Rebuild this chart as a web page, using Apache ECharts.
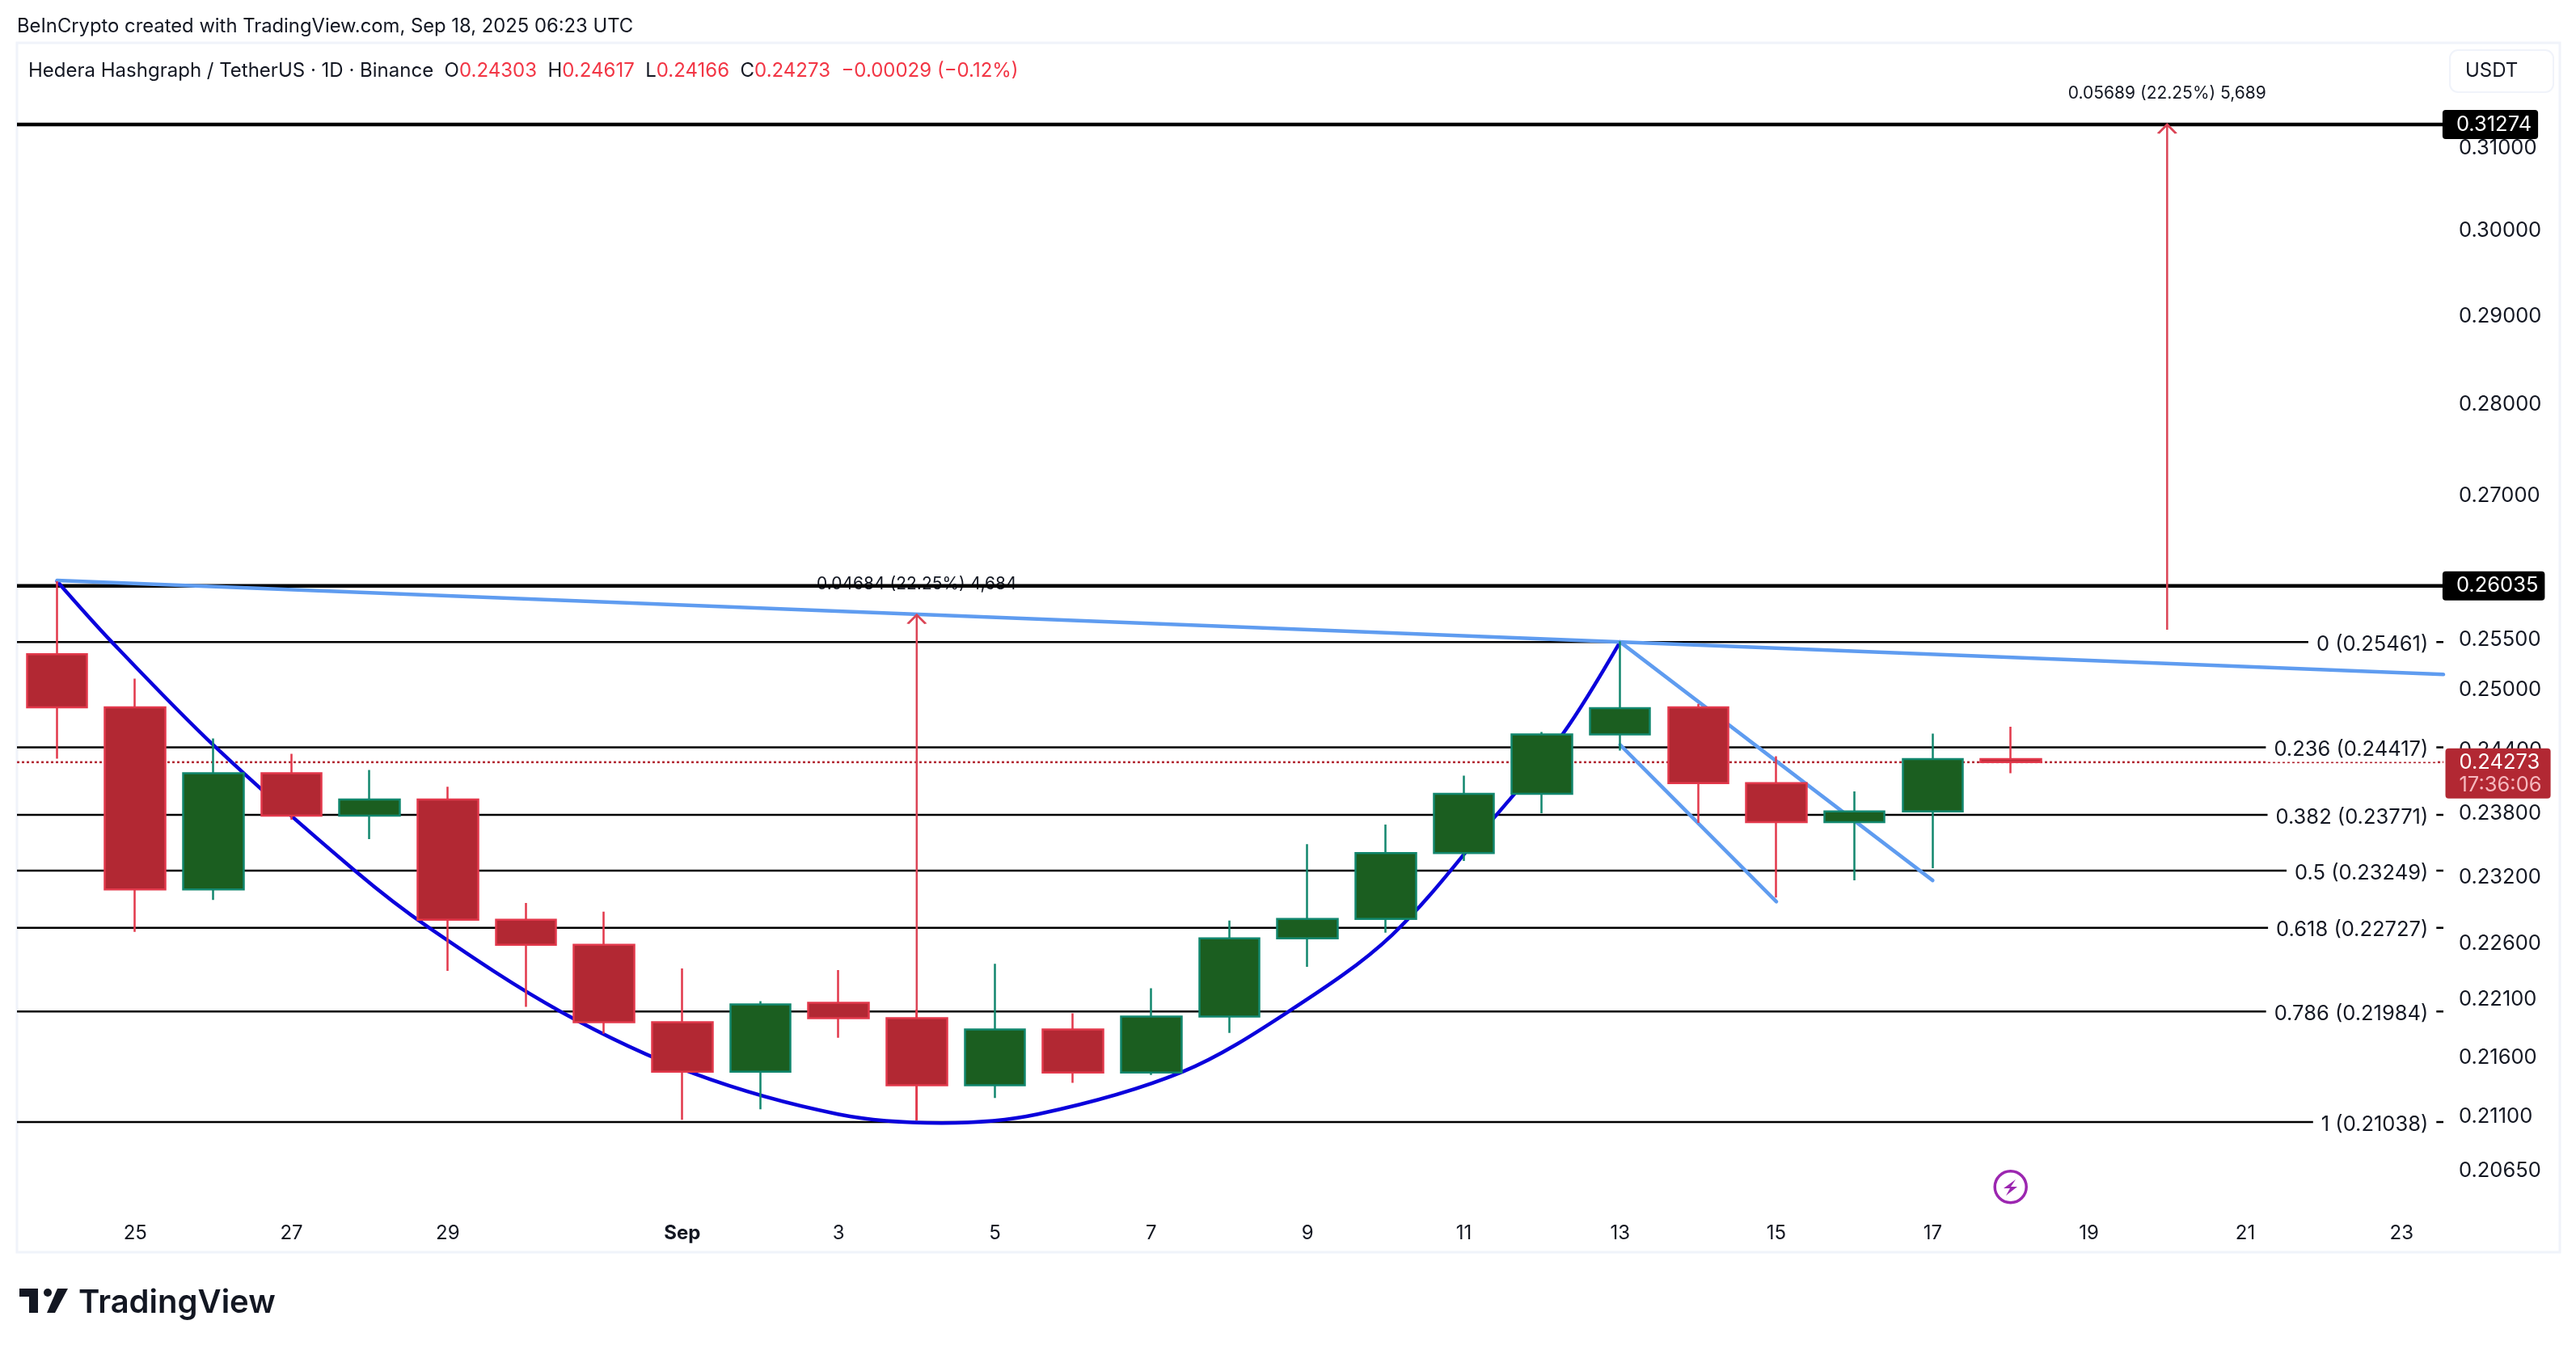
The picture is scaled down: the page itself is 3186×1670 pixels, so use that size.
<!DOCTYPE html>
<html>
<head>
<meta charset="utf-8">
<title>HBAR / USDT</title>
<script src="https://cdn.jsdelivr.net/npm/echarts@6/dist/echarts.min.js"></script>
<style>
  html, body { margin: 0; padding: 0; background: #fff; }
  #chart { width: 3186px; height: 1670px; }
</style>
</head>
<body>
<div id="chart"></div>
<script>
// daily candles, Aug 24 .. Sep 18
var opens  = [0.25338, 0.24809, 0.23077, 0.24166, 0.23763, 0.23916, 0.22800, 0.22574, 0.21890, 0.21463, 0.22059, 0.21925, 0.21349, 0.21827, 0.21456, 0.21940, 0.22632, 0.22807, 0.23413, 0.23969, 0.24542, 0.24809, 0.24072, 0.23702, 0.23802, 0.24303];
var closes = [0.24809, 0.23077, 0.24166, 0.23763, 0.23916, 0.22800, 0.22574, 0.21890, 0.21463, 0.22045, 0.21925, 0.21349, 0.21827, 0.21456, 0.21940, 0.22632, 0.22807, 0.23413, 0.23969, 0.24542, 0.24801, 0.24072, 0.23702, 0.23802, 0.24303, 0.24273];
var lows   = [0.24307, 0.22691, 0.22980, 0.23725, 0.23542, 0.22342, 0.22024, 0.21791, 0.21058, 0.21146, 0.21756, 0.21052, 0.21241, 0.21369, 0.21436, 0.21798, 0.22377, 0.22683, 0.23339, 0.23786, 0.24386, 0.23695, 0.23003, 0.23159, 0.23271, 0.24166];
var highs  = [0.26083, 0.25093, 0.24503, 0.24354, 0.24198, 0.24038, 0.22953, 0.22873, 0.22363, 0.22073, 0.22349, 0.22000, 0.22405, 0.21968, 0.22187, 0.22793, 0.23495, 0.23679, 0.24143, 0.24566, 0.25469, 0.24842, 0.24331, 0.23992, 0.24550, 0.24617];

// x axis: index 0 is Aug 24
var dayTicks  = [1, 3, 5, 8, 10, 12, 14, 16, 18, 20, 22, 24, 26, 28, 30];
var dayLabels = ['25', '27', '29', 'Sep', '3', '5', '7', '9', '11', '13', '15', '17', '19', '21', '23'];

var priceTicks = [0.31, 0.30, 0.29, 0.28, 0.27, 0.26, 0.255, 0.25, 0.244, 0.238, 0.232, 0.226, 0.221, 0.216, 0.211, 0.2065];

var fibRatios = ['0', '0.236', '0.382', '0.5', '0.618', '0.786', '1'];
var fibPrices = [0.25461, 0.24417, 0.23771, 0.23249, 0.22727, 0.21984, 0.21038];
var keyLevels = [0.31274, 0.26035];
var lastPrice = 0.24273;
var countdown = '17:36:06';

// cup curve, as [day index, price]
var cupCurve = [[0, 0.26083], [0.70, 0.25461], [2.03, 0.24417], [3.81, 0.23249], [4.76, 0.22727], [6.44, 0.21984], [8.14, 0.21450], [9.99, 0.21105], [11.32, 0.21031], [12.55, 0.21105], [14.40, 0.21463], [15.76, 0.21984], [17.08, 0.22661], [18.42, 0.23771], [19.27, 0.24550], [20, 0.25461]];

var trendLine   = [[0, 0.26091], [30.535, 0.25134]];
var channelHigh = [[20, 0.25461], [24, 0.23159]];
var channelLow  = [[20, 0.24441], [22, 0.22965]];

var arrowA = [[11, 0.21052], [11, 0.25736]];
var arrowB = [[27, 0.25585], [27, 0.31274]];
var arrowTextA = '0.04684 (22.25%) 4,684';
var arrowTextB = '0.05689 (22.25%) 5,689';

var xMin = -0.513, xMax = 30.535;
var fibLabelX = 30.45;

var FONT = 'Inter';
var TICK_SIZE = 25.5;
var RED = '#B22833', RED_EDGE = '#E2384B', GREEN = '#1B5E20', GREEN_EDGE = '#12876E';
var ARROW = '#DB4455', LIGHT_BLUE = '#5F9CF0', CUP_BLUE = '#0A00DC';
var HIDDEN_POINT = { color: 'transparent', opacity: 1 };

var candles = opens.map(function (o, i) { return [i, o, closes[i], lows[i], highs[i]]; });

function level(value, width) {
    return {
        type: 'line', z: 2, silent: true, symbol: 'none', animation: false,
        lineStyle: { color: '#000', width: width },
        data: [[xMin, value], [xMax, value]]
    };
}

function segment(points, color, width, smooth) {
    return {
        type: 'line', z: 3, silent: true, symbol: 'none', animation: false, smooth: smooth || false,
        lineStyle: { color: color, width: width, cap: 'round' },
        data: points
    };
}

function arrow(points) {
    return {
        type: 'line', z: 3, silent: true, animation: false, showAllSymbol: true,
        lineStyle: { color: ARROW, width: 2.5 },
        itemStyle: { color: 'none', borderColor: ARROW, borderWidth: 2.5 },
        data: [
            { value: points[0], symbol: 'none' },
            { value: points[1], symbol: 'path://M0 20 L20 0 L40 20', symbolSize: [22, 11], symbolOffset: [0, '50%'] }
        ]
    };
}

// text only series: labels hang off an invisible point
function arrowText(point, text) {
    return {
        type: 'scatter', z: 1, silent: true, animation: false, symbolSize: 1,
        itemStyle: HIDDEN_POINT,
        label: { show: true, position: 'top', distance: 27, formatter: text, color: '#131722', fontFamily: FONT, fontSize: 21 },
        data: [point]
    };
}

var series = [];
series.push(arrowText(arrowA[1], arrowTextA));
series.push(arrowText(arrowB[1], arrowTextB));
fibPrices.forEach(function (p) { series.push(level(p, 2.5)); });
keyLevels.forEach(function (p) { series.push(level(p, 4.5)); });
series.push({
    type: 'line', z: 2, silent: true, symbol: 'none', animation: false,
    lineStyle: { color: RED, width: 2.5, type: [3, 3] },
    data: [[xMin, lastPrice], [xMax, lastPrice]]
});
series.push(segment(cupCurve, CUP_BLUE, 4.5, 0.33));
series.push(segment(trendLine, LIGHT_BLUE, 4.5));
series.push(segment(channelHigh, LIGHT_BLUE, 4.5));
series.push(segment(channelLow, LIGHT_BLUE, 4.5));
series.push(arrow(arrowA));
series.push(arrow(arrowB));
series.push({
    type: 'candlestick', z: 6, silent: true, animation: false, barWidth: 75,
    encode: { x: 0, y: [1, 2, 3, 4] },
    itemStyle: { color: GREEN, color0: RED, borderColor: GREEN_EDGE, borderColor0: RED_EDGE, borderWidth: 2.5 },
    data: candles
});
series.push({
    type: 'scatter', z: 7, silent: true, animation: false, symbolSize: 1,
    itemStyle: HIDDEN_POINT,
    label: {
        show: true, position: 'left', distance: 0, offset: [0, 3], color: '#131722', fontFamily: FONT, fontSize: TICK_SIZE,
        backgroundColor: '#fff', padding: [2, 10, 2, 10],
        formatter: function (p) { return fibRatios[p.dataIndex] + ' (' + fibPrices[p.dataIndex].toFixed(5) + ')'; }
    },
    data: fibPrices.map(function (p) { return [fibLabelX, p]; })
});
// price tags on the axis, drawn over the tick labels
series.push({
    type: 'scatter', z: 8, silent: true, animation: false, symbolSize: 1,
    itemStyle: HIDDEN_POINT,
    label: {
        show: true, position: 'right', distance: 10, color: '#fff', fontFamily: FONT, fontSize: TICK_SIZE,
        backgroundColor: '#000', borderRadius: 4, padding: [5, 8, 5, 17],
        formatter: function (p) { return keyLevels[p.dataIndex].toFixed(5); }
    },
    data: keyLevels.map(function (p) { return [xMax - 0.12, p]; })
});
series.push({
    type: 'scatter', z: 8, silent: true, animation: false, symbolSize: 1,
    itemStyle: HIDDEN_POINT,
    label: {
        show: true, position: 'right', distance: 2, offset: [0, 14], fontFamily: FONT, fontSize: TICK_SIZE,
        backgroundColor: RED, borderRadius: 4, padding: [3, 11, 3, 17], lineHeight: 28, align: 'left',
        formatter: '{a|' + lastPrice.toFixed(5) + '}\n{b|' + countdown + '}',
        rich: {
            a: { color: '#fff', fontFamily: FONT, fontSize: TICK_SIZE, lineHeight: 28 },
            b: { color: '#F5B8BE', fontFamily: FONT, fontSize: TICK_SIZE, lineHeight: 28 }
        }
    },
    data: [[xMax, lastPrice]]
});

var chart = echarts.init(document.getElementById('chart'), null, { renderer: 'canvas' });
chart.setOption({
    animation: false,
    backgroundColor: '#fff',
    textStyle: { fontFamily: FONT },
    grid: { left: 21, right: 164, top: 55, bottom: 166 },
    title: [
        {
            text: 'BeInCrypto created with TradingView.com, Sep 18, 2025 06:23 UTC', left: 16, top: 16,
            textStyle: { color: '#131722', fontFamily: FONT, fontSize: 23.8, fontWeight: 'normal' }
        },
        {
            text: 'Hedera Hashgraph / TetherUS · 1D · Binance  O{r|0.24303}  H{r|0.24617}  L{r|0.24166}  C{r|0.24273}  {r|−0.00029 (−0.12%)}',
            left: 30, top: 71,
            textStyle: {
                color: '#131722', fontFamily: FONT, fontSize: 24, fontWeight: 'normal',
                rich: { r: { color: '#F23645', fontFamily: FONT, fontSize: 24 } }
            }
        }
    ],
    xAxis: {
        type: 'value', min: xMin, max: xMax,
        splitLine: { show: false }, axisLine: { show: false }, axisTick: { show: false },
        axisLabel: {
            customValues: dayTicks, margin: 10, color: '#131722', fontFamily: FONT, fontSize: 24,
            hideOverlap: false, showMinLabel: true, showMaxLabel: true,
            formatter: function (v) {
                var s = dayLabels[dayTicks.indexOf(v)];
                return s === 'Sep' ? '{b|Sep}' : s;
            },
            rich: { b: { fontWeight: 'bold', fontFamily: FONT, fontSize: 24, color: '#131722' } }
        }
    },
    yAxis: {
        type: 'log', logBase: 10, min: 0.20269, max: 0.32285, position: 'right',
        splitLine: { show: false }, minorSplitLine: { show: false }, axisLine: { show: false }, axisTick: { show: false },
        axisLabel: {
            customValues: priceTicks, margin: 19, color: '#131722', fontFamily: FONT, fontSize: TICK_SIZE,
            formatter: function (v) { return '{t|' + Number(v).toFixed(5) + '}'; },
            rich: { t: { color: '#131722', fontFamily: FONT, fontSize: TICK_SIZE, padding: [4, 0, 0, 0] } }
        }
    },
    graphic: [
        // chart frame, USDT button, event marker and logo
        { type: 'rect', z: -1, shape: { x: 21, y: 53, width: 3145, height: 1496 }, style: { fill: 'none', stroke: '#F0F3FA', lineWidth: 3 } },
        { type: 'rect', shape: { x: 3030, y: 62, width: 128, height: 52, r: 10 }, style: { fill: '#fff', stroke: '#F0F3FA', lineWidth: 2 } },
        { type: 'text', x: 3049, y: 88, style: { text: 'USDT', fill: '#131722', font: '24px ' + FONT, verticalAlign: 'middle' } },
        { type: 'circle', shape: { cx: 2486.7, cy: 1468.3, r: 19.5 }, style: { fill: '#fff', stroke: '#9C27B0', lineWidth: 3.5 } },
        { type: 'polygon', shape: { points: [[2493, 1459], [2478, 1470], [2486, 1470], [2481, 1479], [2495, 1468], [2487, 1468]] }, style: { fill: '#9C27B0' } },
        { type: 'polygon', shape: { points: [[24, 1594], [47, 1594], [47, 1624], [36, 1624], [36, 1604], [24, 1604]] }, style: { fill: '#131722' } },
        { type: 'circle', shape: { cx: 59, cy: 1599, r: 5 }, style: { fill: '#131722' } },
        { type: 'polygon', shape: { points: [[71, 1594], [84, 1594], [68, 1624], [58, 1624]] }, style: { fill: '#131722' } },
        { type: 'text', x: 97, y: 1612, style: { text: 'TradingView', fill: '#131722', font: '600 40px ' + FONT, verticalAlign: 'middle' } }
    ],
    series: series
});
</script>
</body>
</html>
